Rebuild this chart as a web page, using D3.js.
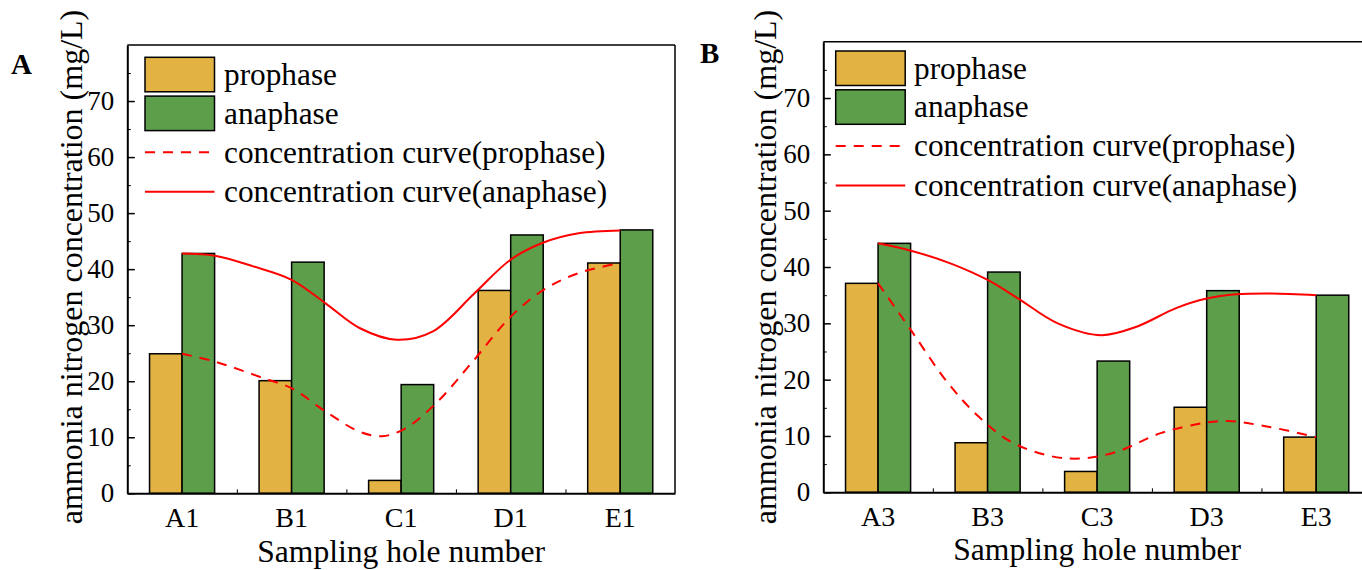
<!DOCTYPE html>
<html>
<head>
<meta charset="utf-8">
<script src="https://cdn.jsdelivr.net/npm/d3@7"></script>
<style>
  body { margin: 0; background: #fff; }
  svg { display: block; font-family: "Liberation Serif", "Times New Roman", serif; }
</style>
</head>
<body>
<div id="chart"></div>
<script>
// ---- data ----
const catsA = ["A1", "B1", "C1", "D1", "E1"];
const catsB = ["A3", "B3", "C3", "D3", "E3"];
const prophaseA = [24.9, 20.1, 2.3, 36.2, 41.1];
const anaphaseA = [42.8, 41.25, 19.4, 46.1, 47.0];
const prophaseB = [37.1, 8.8, 3.7, 15.1, 9.8];
const anaphaseB = [44.2, 39.1, 23.3, 35.8, 35.0];

// smoothed concentration curves, [category position, value]
const curveProA = [[0, 24.9], [0.3, 23.5], [0.75, 20.5], [1.0, 18.75], [1.31, 14.6], [1.62, 11.0],
  [1.83, 10.2], [2.04, 11.6], [2.32, 16.1], [2.64, 23.2], [3.0, 31.5], [3.3, 36.3], [3.62, 39.3], [4.0, 41.1]];
const curveAnaA = [[0, 42.8], [0.3, 42.4], [0.65, 40.5], [1.0, 38.1], [1.31, 33.9], [1.62, 29.5],
  [1.96, 27.4], [2.29, 28.9], [2.67, 35.7], [3.0, 41.7], [3.3, 44.75], [3.62, 46.4], [4.0, 46.9]];
const curveProB = [[0, 37.1], [0.3, 28.8], [0.63, 19.6], [0.92, 13.4], [1.21, 9.0], [1.57, 6.45],
  [1.86, 6.0], [2.18, 7.2], [2.58, 10.5], [3.0, 12.4], [3.2, 12.65], [3.56, 11.65], [4.0, 9.8]];
const curveAnaB = [[0, 44.2], [0.3, 42.9], [0.66, 40.65], [1.0, 37.7], [1.28, 34.4], [1.64, 30.0],
  [2.04, 27.9], [2.36, 29.4], [2.72, 32.7], [3.0, 34.4], [3.27, 35.15], [3.59, 35.3], [4.0, 35.0]];

const yMajor = [0, 10, 20, 30, 40, 50, 60, 70];
const yMinor = [5, 15, 25, 35, 45, 55, 65, 75];
const legendLabels = ["prophase", "anaphase", "concentration curve(prophase)", "concentration curve(anaphase)"];

const colPro = "#e2b242";
const colAna = "#5c9e4a";
const colCurve = "#ff0000";

const svg = d3.select("#chart").append("svg")
  .attr("width", 1362)
  .attr("height", 570);

function drawPanel(opt) {
  const g = svg.append("g");
  const x = d3.scaleBand().domain(opt.cats).range([opt.left, opt.right]).padding(0);
  const bw = x.bandwidth();
  const xi = d3.scaleLinear().domain([0, 4])
    .range([x(opt.cats[0]) + bw / 2, x(opt.cats[4]) + bw / 2]);
  const y = d3.scaleLinear().domain([0, 80]).range([opt.bottom, opt.top]);
  const barW = bw * 0.297;

  // bars
  g.selectAll(".pro").data(opt.pro).enter().append("rect")
    .attr("x", (d, i) => x(opt.cats[i]) + bw / 2 - barW)
    .attr("y", d => y(d))
    .attr("width", barW)
    .attr("height", d => y(0) - y(d))
    .attr("fill", colPro).attr("stroke", "#000").attr("stroke-width", 1.5);
  g.selectAll(".ana").data(opt.ana).enter().append("rect")
    .attr("x", (d, i) => x(opt.cats[i]) + bw / 2)
    .attr("y", d => y(d))
    .attr("width", barW)
    .attr("height", d => y(0) - y(d))
    .attr("fill", colAna).attr("stroke", "#000").attr("stroke-width", 1.5);

  // curves
  const line = d3.line().x(d => xi(d[0])).y(d => y(d[1])).curve(d3.curveCatmullRom.alpha(0.5));
  g.append("path").attr("d", line(opt.curvePro))
    .attr("fill", "none").attr("stroke", colCurve).attr("stroke-width", 2)
    .attr("stroke-dasharray", "10,8");
  g.append("path").attr("d", line(opt.curveAna))
    .attr("fill", "none").attr("stroke", colCurve).attr("stroke-width", 2);

  // frame top / right
  g.append("line").attr("x1", opt.left).attr("x2", opt.right).attr("y1", opt.top).attr("y2", opt.top)
    .attr("stroke", "#000").attr("stroke-width", 1.5);
  g.append("line").attr("x1", opt.right).attr("x2", opt.right).attr("y1", opt.top).attr("y2", opt.bottom)
    .attr("stroke", "#000").attr("stroke-width", 1.5);

  // y axis
  const yAx = g.append("g").attr("transform", `translate(${opt.left},0)`)
    .call(d3.axisLeft(y).tickValues(yMajor).tickSize(-7.5).tickPadding(13).tickSizeOuter(0));
  g.append("g").attr("transform", `translate(${opt.left},0)`)
    .call(d3.axisLeft(y).tickValues(yMinor).tickSize(-3.5).tickFormat("").tickSizeOuter(0))
    .select(".domain").remove();
  yAx.select(".domain").attr("stroke-width", 2);
  yAx.selectAll("line").attr("stroke-width", 1.5);
  yAx.selectAll("text").attr("font-size", 27).attr("font-family", "Liberation Serif").attr("fill", "#000");

  // x axis
  const xAx = g.append("g").attr("transform", `translate(0,${opt.bottom})`)
    .call(d3.axisBottom(x).tickSize(0).tickPadding(14).tickSizeOuter(0));
  xAx.select(".domain").attr("stroke-width", 2);
  xAx.selectAll("text").attr("font-size", 28).attr("font-family", "Liberation Serif").attr("fill", "#000");
  g.append("g").attr("transform", `translate(0,${opt.bottom})`)
    .call(d3.axisBottom(xi).tickValues([0.5, 1.5, 2.5, 3.5]).tickSize(-4).tickFormat("").tickSizeOuter(0))
    .select(".domain").remove();

  // axis titles
  g.append("text")
    .attr("transform", `translate(${opt.yTitleX},267) rotate(-90)`)
    .attr("text-anchor", "middle").attr("font-size", 32)
    .text("ammonia nitrogen concentration (mg/L)");
  g.append("text")
    .attr("x", (opt.left + opt.right) / 2).attr("y", opt.xTitleY)
    .attr("text-anchor", "middle").attr("font-size", 31.6)
    .text("Sampling hole number");

  // panel letter
  g.append("text").attr("x", opt.letterX).attr("y", opt.letterY)
    .attr("font-size", 29).attr("font-weight", "bold").text(opt.letter);

  // legend
  const lg = g.append("g").attr("transform", `translate(${opt.legX},${opt.legY})`);
  const rowY = [17.2, 56.0, 95.0, 134.4];
  [colPro, colAna].forEach((c, i) => {
    lg.append("rect").attr("x", 0).attr("y", rowY[i] - 17.2).attr("width", 69.5).attr("height", 34.5)
      .attr("fill", c).attr("stroke", "#000").attr("stroke-width", 1.5);
  });
  lg.append("line").attr("x1", 0).attr("x2", 69.5).attr("y1", rowY[2]).attr("y2", rowY[2])
    .attr("stroke", colCurve).attr("stroke-width", 2).attr("stroke-dasharray", "10,8");
  lg.append("line").attr("x1", 0).attr("x2", 69.5).attr("y1", rowY[3]).attr("y2", rowY[3])
    .attr("stroke", colCurve).attr("stroke-width", 2);
  legendLabels.forEach((t, i) => {
    lg.append("text").attr("x", opt.legTextDx).attr("y", rowY[i]).attr("dy", "0.33em")
      .attr("font-size", 31.3).text(t);
  });
}

drawPanel({
  cats: catsA, pro: prophaseA, ana: anaphaseA, curvePro: curveProA, curveAna: curveAnaA,
  left: 127.3, right: 675, top: 45, bottom: 493.3,
  yTitleX: 82, xTitleY: 562, letter: "A", letterX: 11, letterY: 74,
  legX: 145, legY: 57.3, legTextDx: 79
});
drawPanel({
  cats: catsB, pro: prophaseB, ana: anaphaseB, curvePro: curveProB, curveAna: curveAnaB,
  left: 823.3, right: 1371, top: 41.7, bottom: 492.3,
  yTitleX: 776, xTitleY: 560, letter: "B", letterX: 700, letterY: 63,
  legX: 835.7, legY: 51, legTextDx: 78.3
});
</script>
</body>
</html>
